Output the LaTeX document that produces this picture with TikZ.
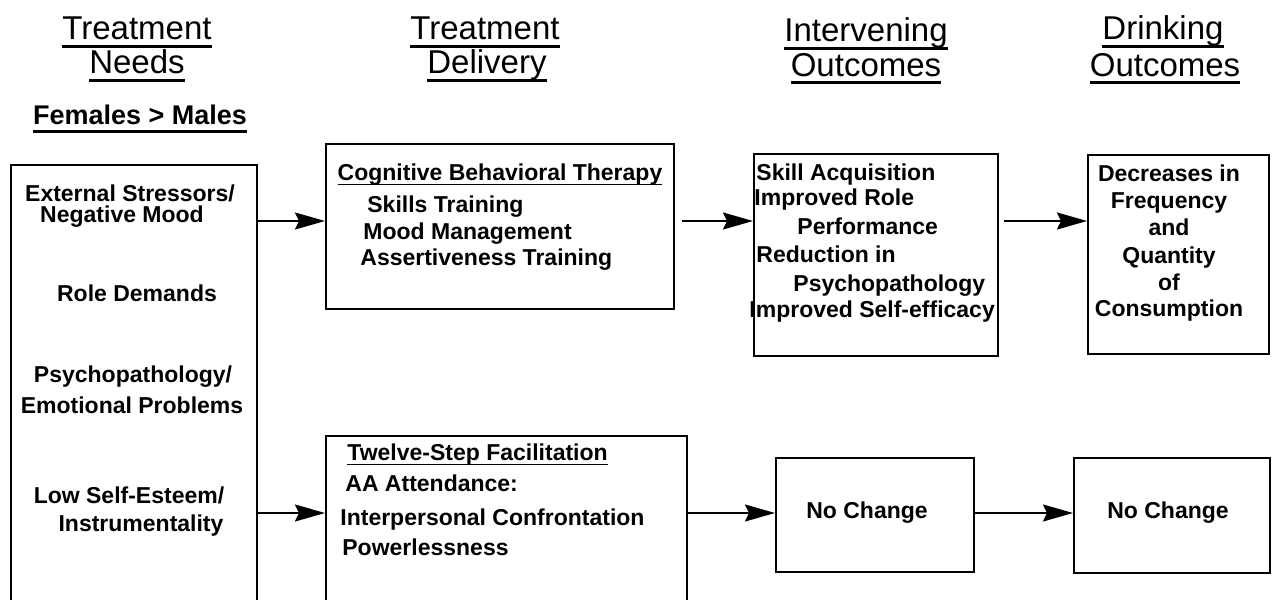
\documentclass[tikz,border=0pt]{standalone}
\usepackage{fontspec}
\setmainfont{Liberation Sans}
\usetikzlibrary{arrows.meta}
\newcommand\ulx[3]{\leavevmode\setbox0\hbox{#3}\rlap{\vrule width\wd0 height -#1 depth \dimexpr#1+#2\relax}\box0}
\newcommand\hd[1]{\ulx{2.6pt}{1.3pt}{#1}}
\newcommand\ub[1]{\ulx{1.8pt}{0.7pt}{#1}}
\begin{document}
\begin{tikzpicture}[x=0.5pt,y=-0.5pt,
  box/.style={draw, line width=1pt, inner sep=0pt, anchor=north west},
  hdr/.style={anchor=base, inner sep=0pt, font=\fontsize{16.5}{17}\selectfont},
  lbl/.style={anchor=base, inner sep=0pt, font=\bfseries\fontsize{11.5}{13}\selectfont},
  lbll/.style={lbl, anchor=base west},
  arr/.style={line width=1pt, -{Stealth[length=15pt,width=8.5pt,inset=2pt]}}]
\useasboundingbox (0,0) rectangle (1272,599);
\fill[white] (0,0) rectangle (1272,599);
\clip (0,0) rectangle (1272,599);

% headers
\node[hdr] (h1a) at (137,40) {\hd{Treatment}};
\node[hdr] (h1b) at (137,74) {\hd{Needs}};
\node[hdr] (h2a) at (485,40) {\hd{Treatment}};
\node[hdr] (h2b) at (487,74) {\hd{Delivery}};
\node[hdr] (h3a) at (866,42) {\hd{Intervening}};
\node[hdr] (h3b) at (866,76) {\hd{Outcomes}};
\node[hdr] (h4a) at (1163,40) {\hd{Drinking}};
\node[hdr] (h4b) at (1165,76) {\hd{Outcomes}};
\node[hdr, font=\bfseries\fontsize{13.5}{15}\selectfont] (fm) at (140,125) {\hd{Females > Males}};

% boxes
\node[box, minimum width=123pt, minimum height=250pt] (needs) at (10,164) {};
\node[box, minimum width=174pt, minimum height=82.5pt] (cbt) at (325,143) {};
\node[box, minimum width=122pt, minimum height=101pt] (int) at (753,153) {};
\node[box, minimum width=90.5pt, minimum height=99.5pt] (drk) at (1087,154) {};
\node[box, minimum width=180.5pt, minimum height=100pt] (tsf) at (325,435) {};
\node[box, minimum width=99pt, minimum height=57pt] (nc1) at (775,457) {};
\node[box, minimum width=98pt, minimum height=57.5pt] (nc2) at (1073,457) {};

% needs texts
\node[lbl] (n1) at (130,201) {External Stressors/};
\node[lbl] (n2) at (122,222) {Negative Mood};
\node[lbl] (n3) at (137,301) {Role Demands};
\node[lbl] (n4) at (133,382) {Psychopathology/};
\node[lbl] (n5) at (132,413) {Emotional Problems};
\node[lbl] (n6) at (129,503) {Low Self-Esteem/};
\node[lbl] (n7) at (141,531) {Instrumentality};

% CBT texts
\node[lbl] (c0) at (500,180) {\ub{Cognitive Behavioral Therapy}};
\node[lbll] (c1) at (367,212) {Skills Training};
\node[lbll] (c2) at (363,239) {Mood Management};
\node[lbll] (c3) at (360,265) {Assertiveness Training};

% intervening texts
\node[lbll] (i1) at (756,180) {Skill Acquisition};
\node[lbll] (i2) at (754,205) {Improved Role};
\node[lbll] (i3) at (797,234) {Performance};
\node[lbll] (i4) at (756,262) {Reduction in};
\node[lbll] (i5) at (793,291) {Psychopathology};
\node[lbll] (i6) at (749,317) {Improved Self-efficacy};

% drinking texts
\node[lbl] (d1) at (1169,181) {Decreases in};
\node[lbl] (d2) at (1169,208) {Frequency};
\node[lbl] (d3) at (1169,235) {and};
\node[lbl] (d4) at (1169,263) {Quantity};
\node[lbl] (d5) at (1169,290) {of};
\node[lbl] (d6) at (1169,316) {Consumption};

% TSF texts
\node[lbll] (t0) at (347,460) {\ub{Twelve-Step Facilitation}};
\node[lbll] (t1) at (345,491) {AA Attendance:};
\node[lbll] (t2) at (340,525) {Interpersonal Confrontation};
\node[lbll] (t3) at (342,555) {Powerlessness};

% no change texts
\node[lbl] (x1) at (867,518) {No Change};
\node[lbl] (x2) at (1168,518) {No Change};

% arrows
\coordinate (r1) at (0,221);
\coordinate (r2) at (0,513);
\draw[arr] (needs.east |- r1) -- (cbt.west |- r1);
\draw[arr, shorten <=3.5pt] (cbt.east |- r1) -- (int.west |- r1);
\draw[arr, shorten <=2.5pt] (int.east |- r1) -- (drk.west |- r1);
\draw[arr] (needs.east |- r2) -- (tsf.west |- r2);
\draw[arr] (tsf.east |- r2) -- (nc1.west |- r2);
\draw[arr] (nc1.east |- r2) -- (nc2.west |- r2);
\end{tikzpicture}
\end{document}
